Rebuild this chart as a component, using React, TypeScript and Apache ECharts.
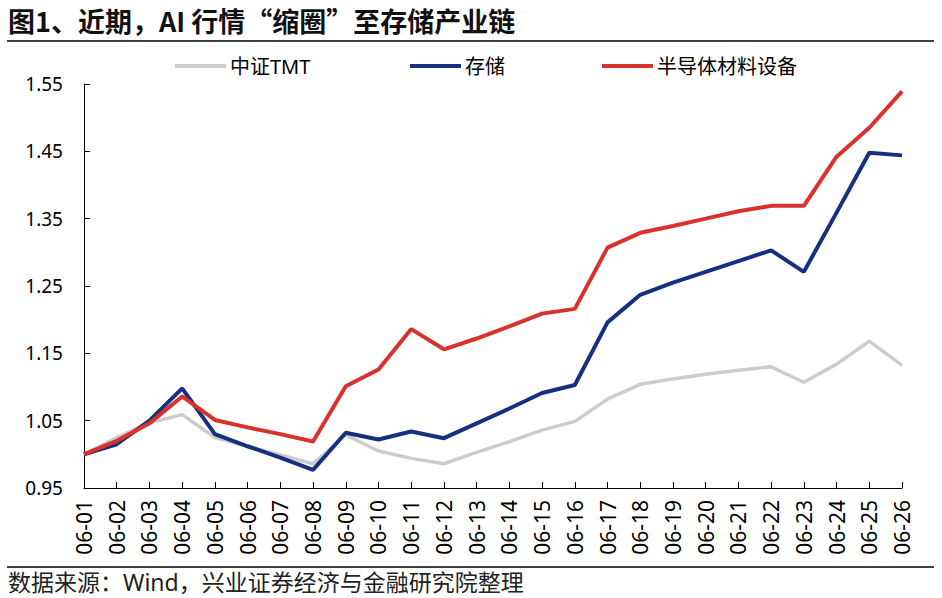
import React, { useEffect, useRef } from 'react';
import * as echarts from 'echarts';

const categories = [
  '06-01', '06-02', '06-03', '06-04', '06-05', '06-06', '06-07', '06-08', '06-09',
  '06-10', '06-11', '06-12', '06-13', '06-14', '06-15', '06-16', '06-17', '06-18',
  '06-19', '06-20', '06-21', '06-22', '06-23', '06-24', '06-25', '06-26',
];

const tmtValues = [
  1.0, 1.025, 1.047, 1.059, 1.025, 1.012, 0.999, 0.986, 1.029, 1.005, 0.994, 0.986, 1.003,
  1.019, 1.036, 1.049, 1.082, 1.104, 1.112, 1.119, 1.125, 1.13, 1.107, 1.134, 1.168, 1.132,
];

const storageValues = [
  1.0, 1.015, 1.05, 1.098, 1.03, 1.012, 0.995, 0.977, 1.032, 1.022, 1.034, 1.024, 1.046,
  1.068, 1.091, 1.103, 1.196, 1.237, 1.255, 1.271, 1.287, 1.303, 1.271, 1.359, 1.448, 1.444,
];

const semiValues = [
  1.0, 1.02, 1.046, 1.086, 1.051, 1.04, 1.03, 1.019, 1.101, 1.126, 1.186, 1.156, 1.172,
  1.19, 1.209, 1.216, 1.307, 1.329, 1.339, 1.35, 1.361, 1.369, 1.369, 1.442, 1.485, 1.539,
];

const yTicks = [0.95, 1.05, 1.15, 1.25, 1.35, 1.45, 1.55];

const seriesNames = ['中证TMT', '存储', '半导体材料设备'];
const seriesColors = ['#cccccc', '#15307f', '#d9312c'];

const TITLE = '图1、近期，AI 行情“缩圈”至存储产业链';
const SOURCE = '数据来源：Wind，兴业证券经济与金融研究院整理';

const FONT = "'Noto Sans', 'Noto Sans CJK SC', sans-serif";

const App: React.FC = () => {
  const chartRef = useRef<HTMLDivElement>(null);

  useEffect(() => {
    if (!chartRef.current) return;
    const chart = echarts.init(chartRef.current, undefined, { renderer: 'svg' });

    const legendLeft = [175, 410, 602];
    const allValues = [tmtValues, storageValues, semiValues];

    const option: echarts.EChartsOption = {
      animation: false,
      backgroundColor: '#ffffff',
      textStyle: { fontFamily: FONT },
      legend: seriesNames.map((name, i) => ({
        data: [name],
        left: legendLeft[i],
        top: 56,
        padding: 0,
        icon: 'rect',
        itemWidth: 51,
        itemHeight: 4,
        itemGap: 0,
        textStyle: { fontSize: 20, color: '#000', fontFamily: FONT, padding: [0, 0, 0, -1] },
      })),
      grid: { left: 84, right: 40, top: 84, bottom: 110 },
      xAxis: {
        type: 'category',
        data: categories,
        boundaryGap: false,
        axisLine: { lineStyle: { color: '#000', width: 1 } },
        axisTick: { inside: true, length: 6, lineStyle: { color: '#000' } },
        axisLabel: { rotate: 90, margin: 12, fontSize: 21, color: '#000', interval: 0 },
        splitLine: { show: false },
      },
      yAxis: {
        type: 'value',
        min: 0.95,
        max: 1.55,
        axisLine: { show: true, lineStyle: { color: '#000', width: 1 } },
        axisTick: { show: true, inside: true, length: 6, customValues: yTicks, lineStyle: { color: '#000' } },
        axisLabel: {
          customValues: yTicks,
          margin: 21,
          fontSize: 19,
          color: '#000',
          formatter: (v: number) => v.toFixed(2),
        },
        splitLine: { show: false },
      },
      series: seriesNames.map((name, i) => ({
        name,
        type: 'line',
        data: allValues[i],
        symbol: 'none',
        showSymbol: false,
        lineStyle: { color: seriesColors[i], width: i === 0 ? 3.5 : 4 },
        itemStyle: { color: seriesColors[i] },
        z: i + 2,
      })),
      graphic: [
        {
          type: 'text',
          x: 8,
          y: 20,
          style: {
            text: TITLE,
            fontSize: 27,
            fontWeight: 'bold',
            fontFamily: "'Noto Sans CJK SC', sans-serif",
            fill: '#111',
            verticalAlign: 'middle',
          },
        },
        {
          type: 'line',
          shape: { x1: 7, y1: 41, x2: 934, y2: 41 },
          style: { stroke: '#000', lineWidth: 1.5 },
        },
        {
          type: 'line',
          shape: { x1: 7, y1: 567, x2: 934, y2: 567 },
          style: { stroke: '#000', lineWidth: 1.5 },
        },
        {
          type: 'text',
          x: 8,
          y: 582,
          style: {
            text: SOURCE,
            fontSize: 23,
            fontFamily: FONT,
            fill: '#222',
            verticalAlign: 'middle',
          },
        },
      ],
    };

    chart.setOption(option);
    return () => {
      chart.dispose();
    };
  }, []);

  return (
    <div
      ref={chartRef}
      style={{ position: 'fixed', left: 0, top: 0, width: 942, height: 598 }}
    />
  );
};

export default App;
